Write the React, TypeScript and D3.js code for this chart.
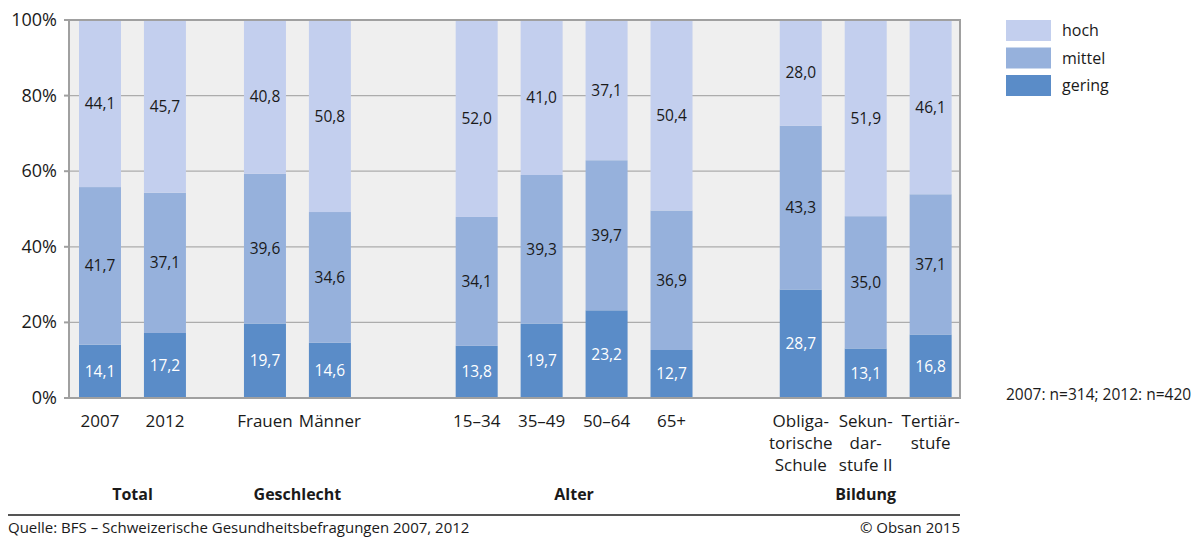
import React from "react";
import * as d3 from "d3";

const categories = ["2007", "2012", "Frauen", "Männer", "15–34", "35–49", "50–64", "65+", "Obliga-|torische|Schule", "Sekun-|dar-|stufe II", "Tertiär-|stufe"];
const groupOf = [0, 0, 1, 1, 2, 2, 2, 2, 3, 3, 3];
const groups = ["Total", "Geschlecht", "Alter", "Bildung"];
const gering = [14.1, 17.2, 19.7, 14.6, 13.8, 19.7, 23.2, 12.7, 28.7, 13.1, 16.8];
const mittel = [41.7, 37.1, 39.6, 34.6, 34.1, 39.3, 39.7, 36.9, 43.3, 35.0, 37.1];
const hoch = [44.1, 45.7, 40.8, 50.8, 52.0, 41.0, 37.1, 50.4, 28.0, 51.9, 46.1];
const seriesNames = ["gering", "mittel", "hoch"];
const yTicks = [0, 20, 40, 60, 80, 100];

const colors: Record<string, string> = { gering: "#5a8cc8", mittel: "#96b1dc", hoch: "#c3cfee" };
const textColor: Record<string, string> = { gering: "#ffffff", mittel: "#1a1a1a", hoch: "#1a1a1a" };
// extra gap (in slot units) inserted before each group
const groupGaps = [0, 0.54, 1.26, 0.99];

const FONT = "'Open Sans', 'Noto Sans', sans-serif";

export default function App() {
  const W = 1202, H = 537;
  const plotL = 69, plotR = 960, plotT = 20, plotB = 398;
  const barW = 42;

  const slots: number[] = [];
  let pos = 0;
  categories.forEach((_, i) => {
    if (i > 0) {
      pos += 1;
      if (groupOf[i] !== groupOf[i - 1]) pos += groupGaps[groupOf[i]];
    }
    slots.push(pos);
  });
  const x = d3.scaleLinear().domain([0, 12.78]).range([100, 930]);
  const y = d3.scaleLinear().domain([0, 100]).range([plotB, plotT]);

  const rows = categories.map((c, i) => ({ key: c, gering: gering[i], mittel: mittel[i], hoch: hoch[i] }));
  const stacked = d3.stack<any>().keys(seriesNames)(rows);
  const fmt = (v: number) => v.toFixed(1).replace(".", ",");

  return (
    <svg width={W} height={H} style={{ position: "absolute", left: 0, top: 0, fontFamily: FONT }}>
      <rect x={plotL} y={plotT} width={plotR - plotL} height={plotB - plotT} fill="#efefef" />
      {yTicks.filter((t) => t > 0 && t < 100).map((t) => (
        <line key={t} x1={plotL} x2={plotR} y1={y(t)} y2={y(t)} stroke="#acacac" strokeWidth={1.3} />
      ))}
      {stacked.map((s) =>
        s.map((d, i) => {
          const y0 = y(d[0]);
          const y1 = y(Math.min(100, d[1]));
          return (
            <rect key={s.key + i} x={x(slots[i]) - barW / 2} y={y1} width={barW} height={y0 - y1} fill={colors[s.key]} />
          );
        })
      )}
      {stacked.map((s) =>
        s.map((d, i) => (
          <text key={"t" + s.key + i} x={x(slots[i])} y={y((d[0] + Math.min(100, d[1])) / 2) + 5.5} textAnchor="middle" fontSize={15.5} fill={textColor[s.key]}>
            {fmt(d[1] - d[0])}
          </text>
        ))
      )}
      <rect x={plotL} y={plotT} width={plotR - plotL} height={plotB - plotT} fill="none" stroke="#a0a0a0" strokeWidth={2} />
      {yTicks.map((t) => (
        <g key={"yt" + t}>
          <line x1={plotL - 5} x2={plotL} y1={y(t)} y2={y(t)} stroke="#a0a0a0" strokeWidth={2} />
          <text x={57} y={y(t) + 6} textAnchor="end" fontSize={18} fill="#1a1a1a">{t}%</text>
        </g>
      ))}
      {categories.map((c, i) => (
        <text key={"c" + i} x={x(slots[i])} textAnchor="middle" fontSize={17} fill="#1a1a1a">
          {c.split("|").map((ln, k) => (
            <tspan key={k} x={x(slots[i])} y={427 + k * 22}>{ln}</tspan>
          ))}
        </text>
      ))}
      {groups.map((g, gi) => {
        const idx = categories.map((_, i) => i).filter((i) => groupOf[i] === gi);
        const cx = (x(slots[idx[0]]) + x(slots[idx[idx.length - 1]])) / 2;
        return (
          <text key={g} x={cx} y={500} textAnchor="middle" fontSize={16} fontWeight="bold" fill="#1a1a1a">{g}</text>
        );
      })}
      <line x1={8} x2={960} y1={515} y2={515} stroke="#555" strokeWidth={2} />
      <text x={8} y={533} fontSize={15} fill="#1a1a1a">Quelle: BFS – Schweizerische Gesundheitsbefragungen 2007, 2012</text>
      <text x={960} y={533} textAnchor="end" fontSize={15} fill="#1a1a1a">© Obsan 2015</text>
      {["hoch", "mittel", "gering"].map((k, i) => (
        <g key={"lg" + k}>
          <rect x={1006} y={20 + i * 27.5} width={45} height={21} fill={colors[k]} />
          <text x={1062} y={36 + i * 27.5} fontSize={16} fill="#1a1a1a">{k}</text>
        </g>
      ))}
      <text x={1006} y={400} fontSize={15.5} fill="#1a1a1a">2007: n=314; 2012: n=420</text>
    </svg>
  );
}
